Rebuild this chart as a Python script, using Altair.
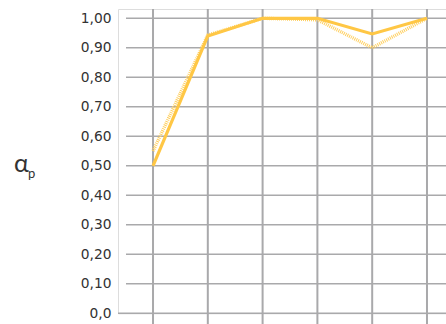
import altair as alt
import pandas as pd

# Six measurement steps, two series of the alpha_p coefficient
steps = [0, 1, 2, 3, 4, 5]
solid_vals = [0.50, 0.94, 1.00, 1.00, 0.947, 1.00]
dotted_vals = [0.55, 0.943, 1.00, 0.995, 0.90, 1.00]
y_ticks = [0.0, 0.1, 0.2, 0.3, 0.4, 0.5, 0.6, 0.7, 0.8, 0.9, 1.0]

W, H = 328, 304.3
X_DOMAIN = [-0.639, 5.347]
Y_DOMAIN = [0, 1.0315]
FONT = "DejaVu Sans"

df = pd.DataFrame(
    {"step": steps * 2,
     "val": solid_vals + dotted_vals,
     "series": ["a"] * 6 + ["b"] * 6}
)
grid_y = pd.DataFrame({"v": [v for v in y_ticks if v > 0]})
base_y = pd.DataFrame({"v": [0.0]})
grid_x = pd.DataFrame({"step": steps})

xs = alt.Scale(domain=X_DOMAIN, nice=False, zero=False)
ys = alt.Scale(domain=Y_DOMAIN, nice=False)

y_axis = alt.Axis(
    values=y_ticks, domain=False, ticks=False, grid=False, title=None,
    labelOverlap=False,
    labelExpr="datum.value == 0 ? '0,0' : replace(format(datum.value, '.2f'), '.', ',')",
    labelFont=FONT, labelFontSize=13.8, labelColor="#333333", labelPadding=7,
)

hlines = alt.Chart(grid_y).mark_rule(color="#a9a9ab", strokeWidth=1.6).encode(
    y=alt.Y("v:Q", scale=ys, axis=y_axis),
    x=alt.value(8),
    x2=alt.value(W),
)

baseline = alt.Chart(base_y).mark_rule(color="#a9a9ab", strokeWidth=1.6).encode(
    y=alt.Y("v:Q", scale=ys, axis=y_axis),
    x=alt.value(0),
    x2=alt.value(W),
)

vlines = alt.Chart(grid_x).mark_rule(color="#a9a9ab", strokeWidth=2).encode(
    x=alt.X("step:Q", scale=xs, axis=None),
    y=alt.value(0),
    y2=alt.value(315),
)

solid = alt.Chart(df[df.series == "a"]).mark_line(
    color="#FFC745", strokeWidth=3.2, strokeJoin="miter"
).encode(
    x=alt.X("step:Q", scale=xs, axis=None),
    y=alt.Y("val:Q", scale=ys, axis=y_axis),
)

dotted = alt.Chart(df[df.series == "b"]).mark_line(
    color="#FFCF5E", strokeWidth=3.4, strokeDash=[1, 1], opacity=1
).encode(
    x=alt.X("step:Q", scale=xs, axis=None),
    y=alt.Y("val:Q", scale=ys, axis=y_axis),
)

alpha = alt.Chart(pd.DataFrame({"t": ["α"]})).mark_text(
    font="Lato", fontSize=25, color="#333333", align="left", baseline="alphabetic"
).encode(text="t:N", x=alt.value(-104), y=alt.value(163))

sub = alt.Chart(pd.DataFrame({"t": ["p"]})).mark_text(
    font="Lato", fontSize=13, color="#333333", align="left", baseline="alphabetic"
).encode(text="t:N", x=alt.value(-90), y=alt.value(169))

chart = alt.layer(hlines, baseline, vlines, dotted, solid, alpha, sub).properties(
    width=W, height=H,
    autosize=alt.AutoSizeParams(type="none"),
    padding={"left": 118, "top": 9, "right": 0, "bottom": 10.7},
).configure_view(stroke=None).configure_axisY(
    labelOverlap=False
).configure(background="white")

chart.save("out.html", embed_options={"renderer": "svg", "actions": False})
